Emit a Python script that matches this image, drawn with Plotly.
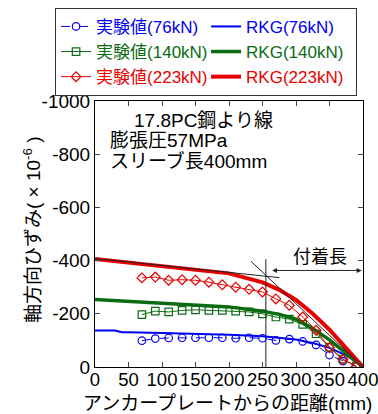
import plotly.graph_objects as go

# ---- data ----
exp_x = [70, 90, 110, 130, 150, 170, 190, 210, 230, 250, 270, 290, 310, 330, 350, 370, 390]
exp_76 = [-99, -107, -109, -110, -110, -110, -110, -108, -110, -108, -100, -105, -96, -83, -45, -22, -2]
exp_140 = [-197, -210, -207, -213, -215, -213, -213, -210, -207, -200, -188, -180, -160, -125, -75, -30, -3]
exp_223 = [-335, -338, -326, -328, -326, -319, -309, -300, -292, -282, -256, -232, -188, -138, -72, -28, -2]

rkg_x = [0, 30, 40, 50, 100, 150, 200, 250, 275, 300, 325, 350, 375, 400]
rkg_76 = [-137, -137, -131, -131, -128, -125, -121, -116, -110, -103, -90, -72, -44, 0]
rkg_140 = [-254, -250, -248, -247, -241, -234, -226, -210, -198, -180, -145, -102, -52, 0]
rkg_223 = [-406, -398, -395, -393, -381, -368, -352, -318, -290, -252, -200, -140, -72, 0]

tan1_x = [0, 275]
tan1_y = [-408, -336]
tan2_x = [233, 400]
tan2_y = [-397, 0]
vline_x = [255, 255]
vline_y = [0, -405]
arrow_x = [262, 398]
arrow_y = -363

x_ticks = [0, 50, 100, 150, 200, 250, 300, 350, 400]
y_ticks = [0, -200, -400, -600, -800, -1000]
y_ticklabels = ["0", "-200", "-400", "-600", "-800", "-1000"]

BLUE = "#0000f0"
GREEN = "#0b6b12"
RED = "#e60000"
FONT = "Arial, 'Liberation Sans', 'Noto Sans CJK JP', sans-serif"

fig = go.Figure()

# RKG lines (drawn first)
for ys, col, w, name, rank in [
    (rkg_76, BLUE, 2, "RKG(76kN)", 2),
    (rkg_140, GREEN, 3.5, "RKG(140kN)", 4),
    (rkg_223, RED, 4, "RKG(223kN)", 6),
]:
    fig.add_trace(go.Scatter(
        x=rkg_x, y=ys, mode="lines",
        line=dict(color=col, width=w),
        name=f'<span style="color:{col}">{name}</span>',
        legendrank=rank,
    ))

# tangent lines
for xs, ys in [(tan1_x, tan1_y), (tan2_x, tan2_y), (vline_x, vline_y)]:
    fig.add_trace(go.Scatter(x=xs, y=ys, mode="lines",
                             line=dict(color="#222222", width=1),
                             showlegend=False, hoverinfo="skip"))

# experimental
for ys, col, sym, dash, name, rank in [
    (exp_76, BLUE, "circle-open", "dash", "実験値(76kN)", 1),
    (exp_140, GREEN, "square-open", "solid", "実験値(140kN)", 3),
    (exp_223, RED, "diamond-open", "solid", "実験値(223kN)", 5),
]:
    fig.add_trace(go.Scatter(
        x=exp_x, y=ys, mode="lines+markers",
        line=dict(color=col, width=1, dash=dash),
        marker=dict(symbol=sym, size=7.5, color=col, line=dict(width=1.2, color=col)),
        name=f'<span style="color:{col}">{name}</span>',
        legendrank=rank,
    ))

annotations = [
    dict(x=55, y=-926, text="17.8PC鋼より線", xanchor="left", yanchor="middle", showarrow=False),
    dict(x=20, y=-850, text="膨張圧57MPa", xanchor="left", yanchor="middle", showarrow=False),
    dict(x=20, y=-775, text="スリーブ長400mm", xanchor="left", yanchor="middle", showarrow=False),
    dict(x=336, y=-413, text="付着長", xanchor="center", yanchor="middle", showarrow=False,
         font=dict(size=18)),
    # double arrow
    dict(x=arrow_x[1], y=arrow_y, ax=arrow_x[0], ay=arrow_y, xref="x", yref="y",
         axref="x", ayref="y",
         text="", showarrow=True, arrowhead=2, arrowside="end+start", arrowsize=1,
         arrowwidth=1, arrowcolor="#222222"),
    # axis titles
    dict(xref="paper", yref="paper", x=-0.235, y=0.515, textangle=-90,
         text="軸方向ひずみ( × 10<sup>-6</sup> )", showarrow=False,
         xanchor="center", yanchor="middle"),
    dict(xref="paper", yref="paper", x=0.494, y=-0.138,
         text="アンカープレートからの距離(mm)", showarrow=False,
         xanchor="center", yanchor="middle"),
]

fig.update_layout(
    width=378, height=414,
    margin=dict(l=95, r=15, t=101, b=47, autoexpand=False),
    paper_bgcolor="white", plot_bgcolor="white",
    font=dict(family=FONT, size=19, color="black"),
    annotations=annotations,
    showlegend=True,
    legend=dict(
        orientation="h", x=-0.149, y=1.35, xanchor="left", yanchor="top",
        bordercolor="#333333", borderwidth=1, bgcolor="white",
        font=dict(size=17), entrywidth=105, entrywidthmode="pixels",
        itemwidth=30, tracegroupgap=0,
    ),
)
fig.update_xaxes(range=[0, 400], tickvals=x_ticks, ticks="inside", ticklen=5,
                 tickangle=0, ticklabeloverflow="allow", ticklabelstandoff=-4,
                 showline=True, linecolor="black", linewidth=1, mirror="allticks",
                 showgrid=False, zeroline=False, tickfont=dict(size=18.5))
fig.update_yaxes(range=[0, -1000], tickvals=y_ticks, ticktext=y_ticklabels,
                 ticks="inside", ticklen=5,
                 showline=True, linecolor="black", linewidth=1, mirror="allticks",
                 showgrid=False, zeroline=False, tickfont=dict(size=19))

fig.write_html("out.html")
